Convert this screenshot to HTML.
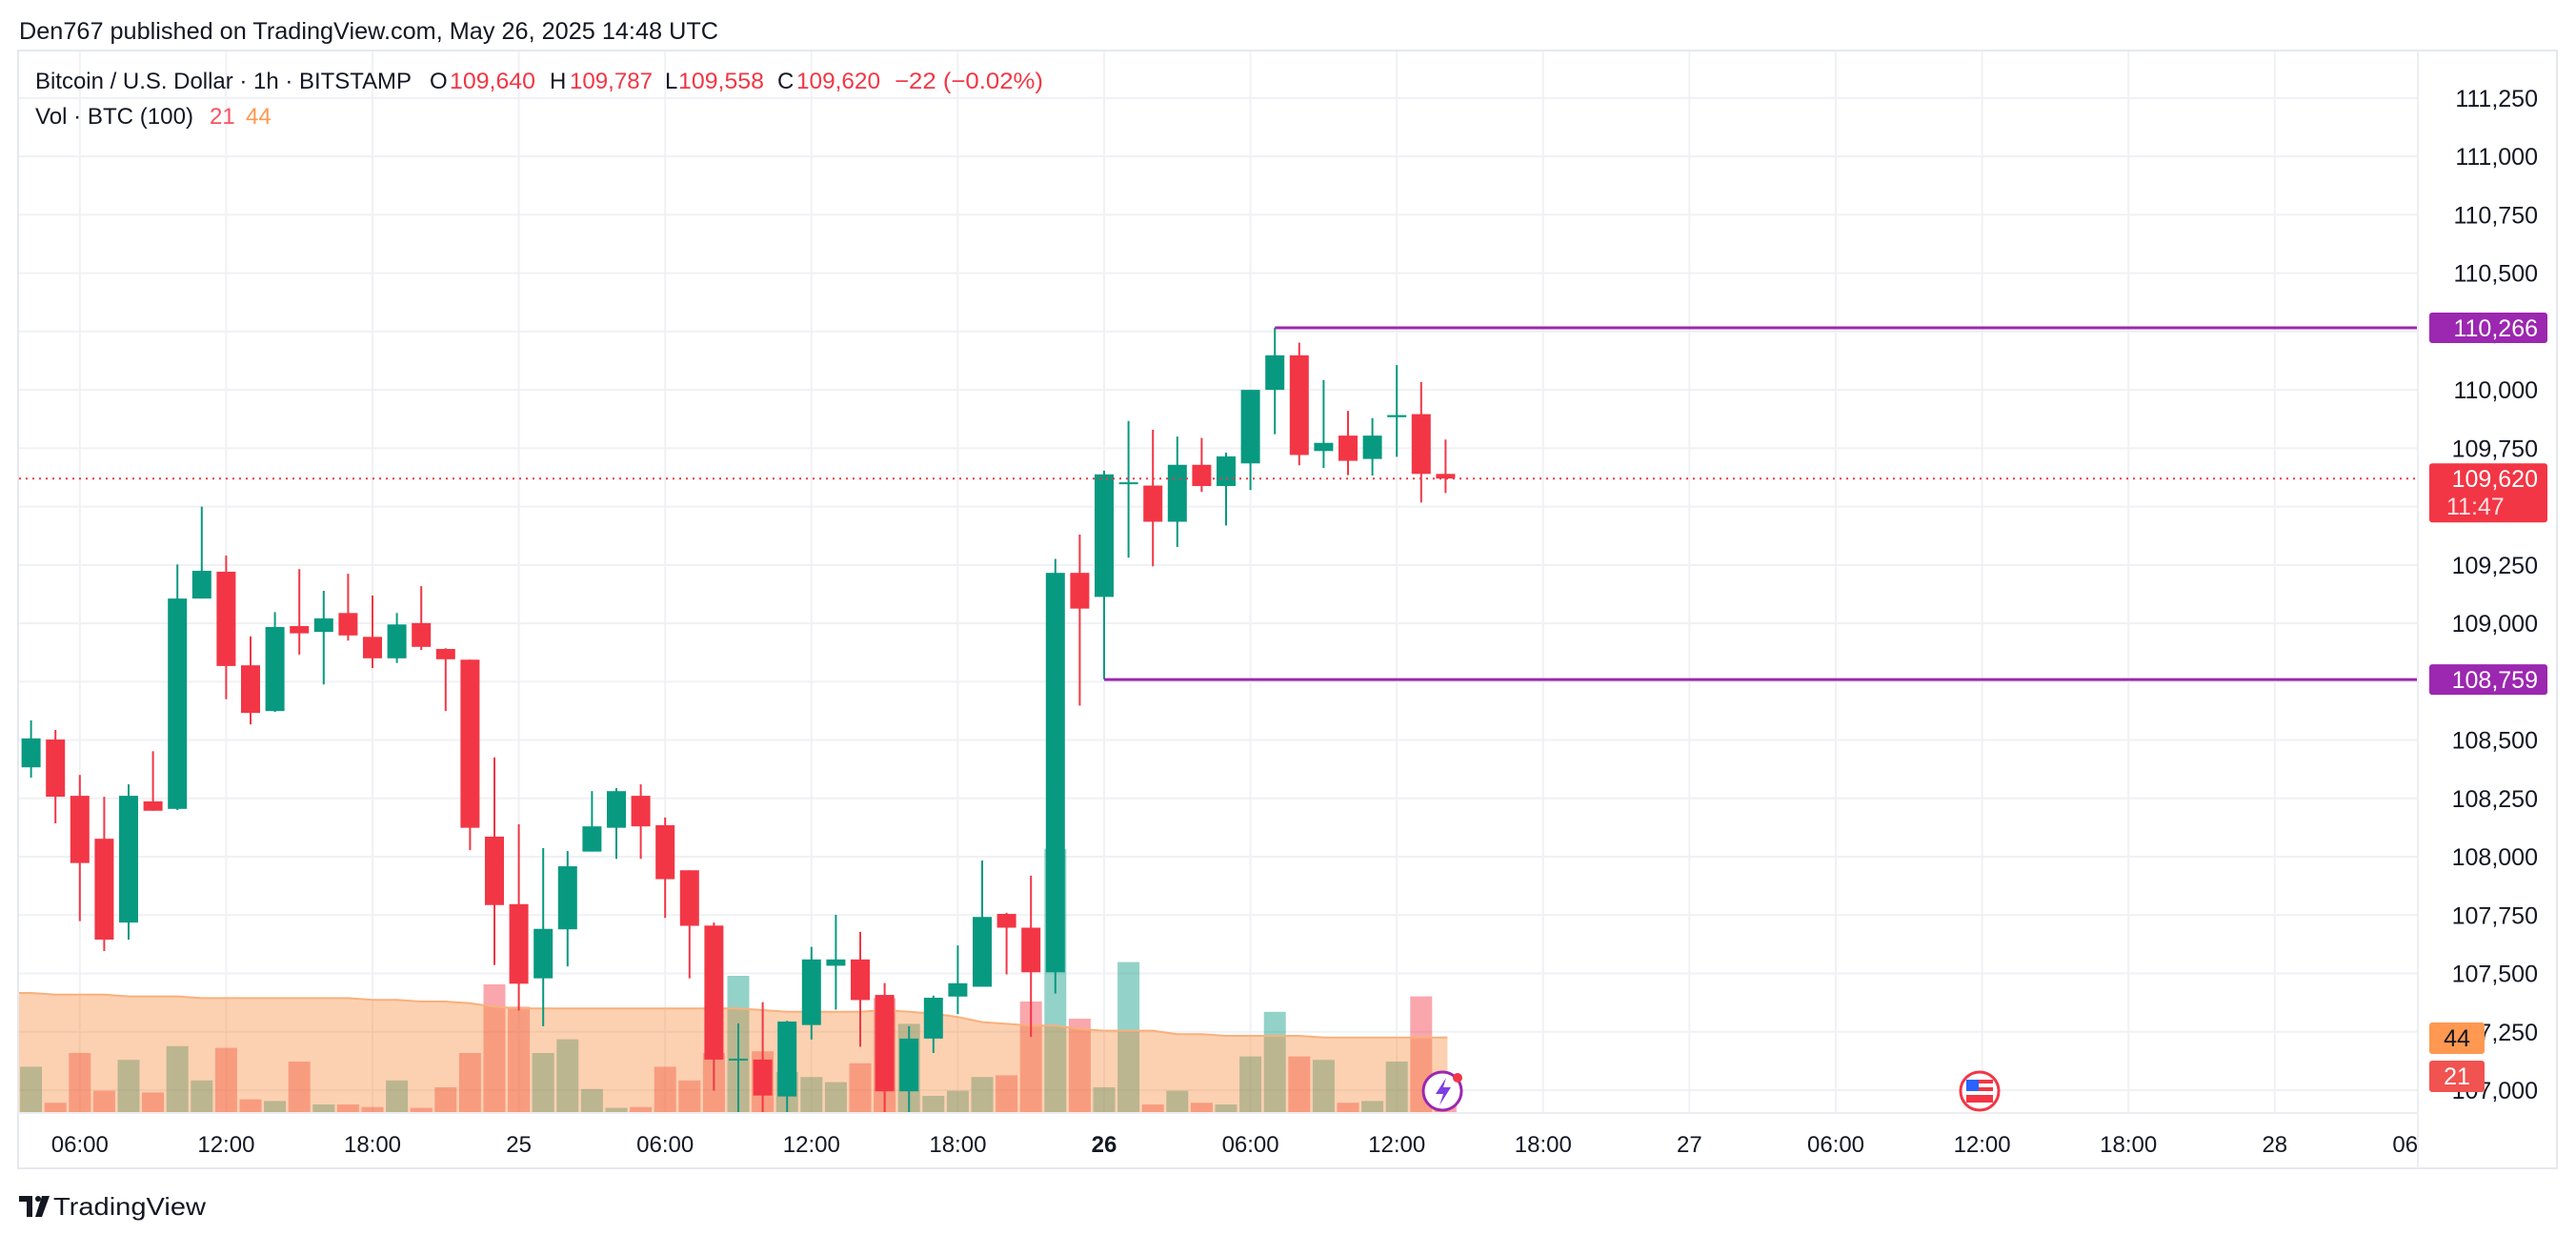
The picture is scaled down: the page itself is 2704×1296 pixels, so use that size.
<!DOCTYPE html>
<html><head><meta charset="utf-8"><style>
html,body{margin:0;padding:0;background:#fff;}
svg{display:block;font-family:"Liberation Sans",sans-serif;}
</style></head><body>
<svg id="chart" width="2704" height="1296" viewBox="0 0 2704 1296" xmlns="http://www.w3.org/2000/svg">
<text x="20" y="41" font-size="25" fill="#131722" textLength="734" lengthAdjust="spacingAndGlyphs">Den767 published on TradingView.com, May 26, 2025 14:48 UTC</text>
<rect x="19" y="53" width="2665" height="1173" fill="none" stroke="#e6e8ee" stroke-width="2"/>
<g id="grid"></g>
<g id="vol" clip-path="url(#pane)"></g>
<g id="candles" clip-path="url(#pane)"></g>
<g id="levels"></g>
<line x1="2538" y1="53" x2="2538" y2="1226" stroke="#eceef2" stroke-width="2"/>
<line x1="19" y1="1168" x2="2538" y2="1168" stroke="#eceef2" stroke-width="2"/>
<g id="yaxis"></g>
<g id="xaxis" clip-path="url(#timeclip)"></g>
<g font-size="24">
<text x="37" y="93" fill="#131722" textLength="395" lengthAdjust="spacingAndGlyphs">Bitcoin / U.S. Dollar · 1h · BITSTAMP</text>
<text x="451" y="93" fill="#131722">O</text><text x="472" y="93" fill="#f23645" textLength="90" lengthAdjust="spacingAndGlyphs">109,640</text>
<text x="577" y="93" fill="#131722">H</text><text x="598" y="93" fill="#f23645" textLength="87" lengthAdjust="spacingAndGlyphs">109,787</text>
<text x="698" y="93" fill="#131722">L</text><text x="712" y="93" fill="#f23645" textLength="90" lengthAdjust="spacingAndGlyphs">109,558</text>
<text x="816" y="93" fill="#131722">C</text><text x="836" y="93" fill="#f23645" textLength="88" lengthAdjust="spacingAndGlyphs">109,620</text>
<text x="939" y="93" fill="#f23645" textLength="156" lengthAdjust="spacingAndGlyphs">−22 (−0.02%)</text>
<text x="37" y="130" fill="#131722" textLength="166" lengthAdjust="spacingAndGlyphs">Vol · BTC (100)</text>
<text x="220" y="130" fill="#f7525f">21</text><text x="258" y="130" fill="#ff9850">44</text>
</g>
<g>
<circle cx="1514" cy="1145" r="20" fill="#fff" stroke="#9c27b0" stroke-width="3"/>
<path d="M1518 1131 L1507 1148 L1515 1148 L1511 1160 L1523 1141 L1515 1141 Z" fill="#7b3fe4"/>
<circle cx="1530" cy="1131" r="5" fill="#f23645"/>
</g>
<g>
<circle cx="2078" cy="1145" r="20" fill="#fff" stroke="#f23645" stroke-width="3"/>
<rect x="2064" y="1133" width="28" height="24" fill="#f23645"/>
<rect x="2064" y="1137" width="28" height="4" fill="#fff"/><rect x="2064" y="1145" width="28" height="4" fill="#fff"/>
<rect x="2064" y="1133" width="13" height="12" fill="#2962ff"/>
</g>
<g>
<path d="M20 1255 h14 v22 h-6 v-16 h-8 Z" fill="#131722"/><circle cx="40" cy="1258" r="3" fill="#131722"/>
<path d="M44 1255 h8 l-8 22 h-7 Z" fill="#131722"/>
<text x="56" y="1275" font-size="26" fill="#131722" textLength="160" lengthAdjust="spacingAndGlyphs">TradingView</text>
</g>
<defs><clipPath id="pane"><rect x="20" y="54" width="2518" height="1113"/></clipPath>
<clipPath id="timeclip"><rect x="20" y="1168" width="2518" height="57"/></clipPath></defs>
</svg>
<script>
const hours=[-45,-44,-43,-42,-41,-40,-39,-38,-37,-36,-35,-34,-33,-32,-31,-30,-29,-28,-27,-26,-25,-24,-23,-22,-21,-20,-19,-18,-17,-16,-15,-14,-13,-12,-11,-10,-9,-8,-7,-6,-5,-4,-3,-2,-1,0,1,2,3,4,5,6,7,8,9,10,11,12,13,14];
const opens=[107815,108383,108502,108261,108077,107718,108237,108205,109106,109221,108820,108624,108988,108963,109044,108942,108850,109001,108890,108844,108086,107797,107479,107689,108022,108124,108261,108135,107942,107705,107131,107131,106973,107279,107533,107560,107408,106995,107221,107401,107443,107755,107696,107505,109216,109113,109596,109590,109435,109679,109588,109685,110000,110148,109738,109804,109704,109883,109896,109640];
const highs=[108400,108584,108543,108350,108257,108310,108452,109252,109500,109290,108944,109048,109232,109139,109212,109119,109044,109159,108893,108844,108425,108139,108037,108024,108281,108294,108310,108168,107942,107718,107286,107377,107297,107614,107751,107678,107459,107274,107405,107620,107984,107760,107919,109276,109380,109654,109867,109829,109800,109794,109731,110000,110266,110202,110042,109910,109879,110106,110033,109787];
const lows=[107800,108339,108143,107724,107596,107645,108197,108200,109106,108675,108567,108620,108866,108738,108926,108808,108830,108886,108624,108028,107536,107341,107274,107530,108022,107991,107991,107738,107479,106998,106904,106904,106904,107217,107345,107186,106904,106904,107159,107326,107443,107496,107228,107414,108647,108760,109281,109244,109327,109563,109419,109571,109810,109677,109665,109635,109633,109713,109517,109558];
const closes=[108389,108507,108257,107973,107645,108261,108197,109106,109225,108817,108616,108984,108957,109021,108948,108850,108995,108899,108846,108124,107793,107456,107691,107959,108130,108281,108130,107904,107704,107131,107135,106977,107294,107560,107560,107386,106995,107221,107396,107458,107742,107696,107505,109216,109063,109638,109604,109435,109679,109588,109715,110000,110148,109721,109773,109696,109804,109892,109640,109620];
const volumes=[36,27,6,35,13,31,12,39,19,38,8,7,30,5,5,3.5,19,3,15,35,75,62,35,43,14,3,3.5,27,19,35,80,36,24,21,18,29,67,52,10,13,21,22,65,154,55,15,88,5,13,6,5,33,59,33,31,6,7,30,68,21];
const volMA=[70,70,69,69,69,68,68,68,67,67,67,67,67,67,67,66,66,65,65,64,62,61,61,61,61,61,61,61,61,61,61,60,59,59,59,59,60,59,58,56,53,52,51,51,49,48,48,48,46,46,45,45,45,45,44,44,44,44,44,44];
const priceTicks=[107000,107250,107500,107750,108000,108250,108500,108750,109000,109250,109500,109750,110000,110250,110500,110750,111000,111250];
const timeTickHours=[-42,-36,-30,-24,-18,-12,-6,0,6,12,18,24,30,36,42,48,54];
const timeTickLabels=["06:00","12:00","18:00","25","06:00","12:00","18:00","26","06:00","12:00","18:00","27","06:00","12:00","18:00","28","06:00"];
const levelPrices=[110266,108759];
const levelStartHours=[7,0];
const lastPrice=109620;

const NS="http://www.w3.org/2000/svg";
function X(h){return 1159+25.6*h;}
function Y(p){return 1144-(p-107000)/250*61.24;}
function VY(v){return 1168-v*1.8;}
function mk(tag,attrs,parent){const e=document.createElementNS(NS,tag);for(const k in attrs)e.setAttribute(k,attrs[k]);parent.appendChild(e);return e;}
const G=id=>document.getElementById(id);
const GREEN="#089981",RED="#f23645";

priceTicks.forEach(p=>{const l=mk('line',{x1:20,x2:2538,y1:Y(p),y2:Y(p),stroke:"#f0f1f4","stroke-width":2},G('grid'));


const t=mk('text',{x:2664,y:Y(p)+9,"font-size":25,fill:"#131722","text-anchor":"end"},G('yaxis'));


t.textContent=p.toLocaleString('en-US');});
timeTickHours.forEach((h,i)=>{if(X(h)<2538){const l=mk('line',{x1:X(h),x2:X(h),y1:54,y2:1167,stroke:"#f0f1f4","stroke-width":2},G('grid'));

}
const t=mk('text',{x:X(h),y:1209,"font-size":24,fill:"#131722","text-anchor":"middle","font-weight":timeTickLabels[i]==="26"?"bold":"normal"},G('xaxis'));


t.textContent=timeTickLabels[i];});

hours.forEach((h,i)=>{const up=closes[i]>=opens[i];const r=mk('rect',{x:X(h)-11.5,y:VY(volumes[i]),width:23,height:1168-VY(volumes[i]),fill:up?"rgba(8,153,129,0.44)":"rgba(242,54,69,0.44)"},G('vol'));

});
const endX=X(hours[hours.length-1])+2;
let d="M"+X(hours[0]-1)+" 1168";hours.forEach((h,i)=>{d+=" L"+(X(h)+(i===0?-25:0))+" "+VY(volMA[i]);});
d+=" L"+endX+" "+VY(volMA[volMA.length-1])+" L"+endX+" 1168 Z";
const area=mk('path',{d:d,fill:"rgba(247,140,60,0.4)"},G('vol'));


let d2="";hours.forEach((h,i)=>{d2+=(i?" L":"M")+(X(h)+(i===0?-25:0))+" "+VY(volMA[i]);});
const mline=mk('path',{d:d2+" L"+endX+" "+VY(volMA[volMA.length-1]),fill:"none",stroke:"#f9b07c","stroke-width":2},G('vol'));



hours.forEach((h,i)=>{const up=closes[i]>=opens[i];const c=up?GREEN:RED;
const g=mk('g',{},G('candles'));


mk('line',{x1:X(h),x2:X(h),y1:Y(highs[i]),y2:Y(lows[i]),stroke:c,"stroke-width":2},g);
const top=Y(Math.max(opens[i],closes[i])),bot=Y(Math.min(opens[i],closes[i]));
mk('rect',{x:X(h)-10,y:top,width:20,height:Math.max(bot-top,2),fill:c},g);});

const lp=mk('line',{x1:20,x2:2538,y1:Y(lastPrice),y2:Y(lastPrice),stroke:RED,"stroke-width":2,"stroke-dasharray":"2 5"},G('levels'));


levelPrices.forEach((p,i)=>{const l=mk('line',{x1:X(levelStartHours[i]),x2:2538,y1:Y(p),y2:Y(p),stroke:"#9c27b0","stroke-width":3},G('levels'));


const b=mk('rect',{x:2550,y:Y(p)-16,width:124,height:32,rx:3,fill:"#9c27b0"},G('yaxis'));


const t=mk('text',{x:2664,y:Y(p)+9,"font-size":25,fill:"#fff","text-anchor":"end"},G('yaxis'));


t.textContent=p.toLocaleString('en-US');});
const lb=mk('rect',{x:2550,y:Y(lastPrice)-16,width:124,height:62,rx:3,fill:RED},G('yaxis'));


const lt=mk('text',{x:2664,y:Y(lastPrice)+9,"font-size":25,fill:"#fff","text-anchor":"end"},G('yaxis'));


lt.textContent=lastPrice.toLocaleString('en-US');
const ct=mk('text',{x:2568,y:Y(lastPrice)+38,"font-size":25,fill:"#fde0e2"},G('yaxis'));


ct.textContent="11:47";
const vb1=mk('rect',{x:2550,y:1073,width:58,height:33,rx:3,fill:"#ff9850"},G('yaxis'));


const vt1=mk('text',{x:2579,y:1098,"font-size":25,fill:"#131722","text-anchor":"middle"},G('yaxis'));


vt1.textContent=String(volMA[volMA.length-1]);
const vb2=mk('rect',{x:2550,y:1113,width:58,height:33,rx:3,fill:"#f05350"},G('yaxis'));


const vt2=mk('text',{x:2579,y:1138,"font-size":25,fill:"#fff","text-anchor":"middle"},G('yaxis'));


vt2.textContent=String(volumes[volumes.length-1]);
</script>
</body></html>
